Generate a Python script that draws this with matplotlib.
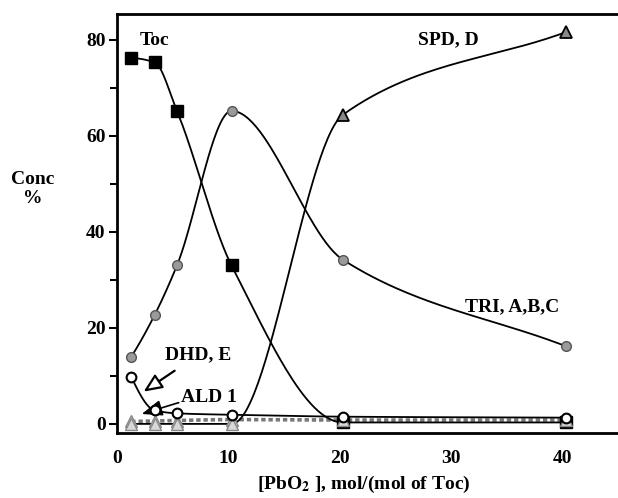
import matplotlib
matplotlib.use('Agg')
import matplotlib.pyplot as plt
import numpy as np

# reagent ratio [PbO2]/[Toc]
ratio = [1.3, 3.4, 5.4, 10.3, 20.3, 40.3]

toc = [76.2, 75.3, 65.2, 33.0, 0.3, 0.3]
tri = [14.0, 22.7, 33.0, 65.2, 34.2, 16.2]
spd = [0.0, 0.0, 0.0, 0.0, 64.4, 81.6]
dhd = [9.8, 2.8, 2.2, 1.9, 1.5, 1.3]
ald = [0.5, 0.6, 0.7, 0.9, 0.8, 0.8]

plt.rcParams['font.family'] = ['Liberation Serif', 'DejaVu Serif']
plt.rcParams['font.weight'] = 'bold'
plt.rcParams['mathtext.fontset'] = 'stix'


def smooth(x, y, n=60):
    # monotone cubic curve through the points, used only to draw smooth lines
    x = np.asarray(x, float)
    y = np.asarray(y, float)
    h = np.diff(x)
    d = np.diff(y) / h
    m = np.zeros_like(y)
    for k in range(1, len(x) - 1):
        if d[k - 1] * d[k] > 0:
            w1 = 2 * h[k] + h[k - 1]
            w2 = h[k] + 2 * h[k - 1]
            m[k] = (w1 + w2) / (w1 / d[k - 1] + w2 / d[k])
    m[0] = ((2 * h[0] + h[1]) * d[0] - h[0] * d[1]) / (h[0] + h[1])
    if np.sign(m[0]) != np.sign(d[0]):
        m[0] = 0
    m[-1] = d[-1]
    xs, ys = [], []
    for k in range(len(x) - 1):
        t = np.linspace(0, 1, n)
        h00 = 2 * t**3 - 3 * t**2 + 1
        h10 = t**3 - 2 * t**2 + t
        h01 = -2 * t**3 + 3 * t**2
        h11 = t**3 - t**2
        xs.append(x[k] + t * h[k])
        ys.append(h00 * y[k] + h10 * h[k] * m[k] + h01 * y[k + 1] + h11 * h[k] * m[k + 1])
    return np.concatenate(xs), np.concatenate(ys)


fig = plt.figure(figsize=(6.18, 4.98), dpi=100)
ax = fig.add_axes([0.189, 0.1305, 0.811, 0.8415])

# near-zero series first so the main curves sit on top
sx, sy = smooth(ratio, ald)
ax.plot(sx, sy, color='#777777', lw=2.6, ls=(0, (1.2, 0.8)), zorder=2)

sx, sy = smooth(ratio, spd)
ax.plot(sx, sy, color='black', lw=1.3, zorder=3)

sx, sy = smooth(ratio, dhd)
ax.plot(sx, sy, color='black', lw=1.3, zorder=3)

sx, sy = smooth(ratio, toc)
ax.plot(sx, sy, color='black', lw=1.3, zorder=3)

sx, sy = smooth(ratio, tri)
ax.plot(sx, sy, color='black', lw=1.3, zorder=3)

# markers
ax.plot(ratio, toc, 's', ms=8, color='black', zorder=3.5)
ax.plot(ratio, ald, '^', ms=9, mfc='#d8d8d8', mec='#888888', mew=1, zorder=4)
ax.plot(ratio[:4], spd[:4], '^', ms=9, mfc='#d8d8d8', mec='#888888', mew=1, zorder=4)
ax.plot(ratio[4:], spd[4:], '^', ms=9, mfc='#888888', mec='black', mew=1.3, zorder=4)
ax.plot(ratio, dhd, 'o', ms=7, mfc='white', mec='black', mew=1.5, zorder=4.5)
ax.plot(ratio, tri, 'o', ms=7, mfc='#9a9a9a', mec='#555555', mew=1, zorder=4.5)

# series labels
ax.text(3.4, 79.8, 'Toc', fontsize=14, fontweight='bold', ha='center', va='center')
ax.text(29.8, 80.0, 'SPD, D', fontsize=14, fontweight='bold', ha='center', va='center')
ax.text(35.5, 24.4, 'TRI, A,B,C', fontsize=14, fontweight='bold', ha='center', va='center')
ax.text(7.3, 14.4, 'DHD, E', fontsize=14, fontweight='bold', ha='center', va='center')
ax.text(8.3, 5.6, 'ALD 1', fontsize=14, fontweight='bold', ha='center', va='center')

ax.annotate('', xy=(2.2, 6.4), xytext=(5.4, 11.4),
            arrowprops=dict(arrowstyle='-|>,head_width=0.35,head_length=0.8',
                            fc='white', ec='black', lw=1.6, mutation_scale=14))
ax.annotate('', xy=(2.0, 1.9), xytext=(5.8, 4.6),
            arrowprops=dict(arrowstyle='-|>,head_width=0.35,head_length=0.9',
                            fc='black', ec='black', lw=1.2, mutation_scale=14))

ax.set_xlim(0.35, 45.0)
ax.set_ylim(-1.9, 85.4)
ax.set_xticks([0, 10, 20, 30, 40])
ax.set_yticks([0, 20, 40, 60, 80])
ax.set_yticks([10, 30, 50, 70], minor=True)
ax.tick_params(axis='x', length=0, pad=12, labelsize=14)
ax.tick_params(axis='y', which='major', length=6, width=1.5, direction='out', labelsize=14, pad=2)
ax.tick_params(axis='y', which='minor', length=5, width=1.5, direction='out')
for lab in ax.get_xticklabels() + ax.get_yticklabels():
    lab.set_fontweight('bold')

for side in ['left', 'bottom', 'top']:
    ax.spines[side].set_linewidth(2)
ax.spines['right'].set_visible(False)

fig.text(33 / 618, 1 - 189 / 498, 'Conc\n%', fontsize=14, fontweight='bold',
         ha='center', va='center', linespacing=1.1)
fig.text(364 / 618, 1 - 484 / 498, r'[PbO$_{\mathbf{2}}$ ], mol/(mol of Toc)',
         fontsize=14, fontweight='bold', ha='center', va='center')

fig.savefig('out.png', dpi=100)
